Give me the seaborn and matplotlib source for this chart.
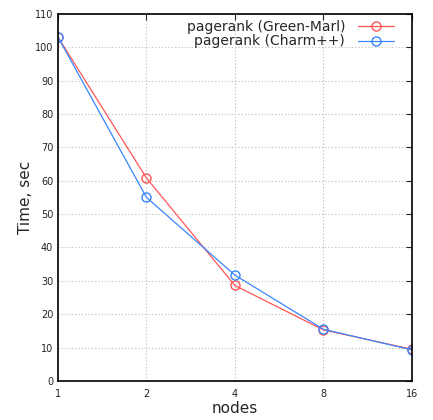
import matplotlib
matplotlib.use("Agg")
import matplotlib.pyplot as plt
import seaborn as sns
import pandas as pd

nodes = [1, 2, 4, 8, 16]
green_marl = [103.0, 60.8, 28.6, 15.3, 9.5]
charm = [103.0, 55.0, 31.7, 15.5, 9.3]
series_names = ["pagerank (Green-Marl)", "pagerank (Charm++)"]
colors = ["#ff5555", "#3a86ff"]

df = pd.DataFrame({
    "nodes": nodes * 2,
    "time": green_marl + charm,
    "series": [series_names[0]] * len(nodes) + [series_names[1]] * len(nodes),
})

sns.set_style("white")
plt.rcParams["font.family"] = ["DejaVu Sans"]

fig = plt.figure(figsize=(4.33, 4.20), dpi=100)
ax = fig.add_axes([0.134, 0.093, 0.817, 0.874])

sns.lineplot(data=df, x="nodes", y="time", hue="series", palette=colors,
             marker="o", markersize=6.5, markerfacecolor="none",
             markeredgewidth=1.0, linewidth=0.9, ax=ax)
for line, c in zip(ax.lines, colors):
    line.set_markeredgecolor(c)

ax.set_xscale("log", base=2)
ax.set_xlim(1, 16)
ax.set_ylim(0, 110)
ax.set_xticks(nodes)
ax.set_xticklabels([str(n) for n in nodes])
ax.set_yticks(range(0, 111, 10))
ax.minorticks_off()
ax.tick_params(axis="both", labelsize=7, direction="in", length=4, width=0.8,
               top=True, right=True, colors="#222222")
ax.tick_params(axis="x", pad=6)
ax.grid(True, linestyle=(0, (1, 2)), color="#bbbbbb", linewidth=0.8)
for s in ax.spines.values():
    s.set_linewidth(1.2)
    s.set_color("black")

ax.set_xlabel("nodes", fontsize=11, labelpad=1)
ax.set_ylabel("Time, sec", fontsize=11, labelpad=1)

handles, labels = ax.get_legend_handles_labels()
for h, c in zip(handles, colors):
    h.set_markeredgecolor(c)
    h.set_markerfacecolor("none")
leg = ax.legend(handles, labels, loc="upper right", markerfirst=False, frameon=False,
                fontsize=10, handlelength=2.6, handletextpad=0.9,
                borderaxespad=0.0, labelspacing=0.05, bbox_to_anchor=(0.965, 0.999))
for t in leg.get_texts():
    t.set_ha("right")

fig.savefig("out.png", dpi=100)
